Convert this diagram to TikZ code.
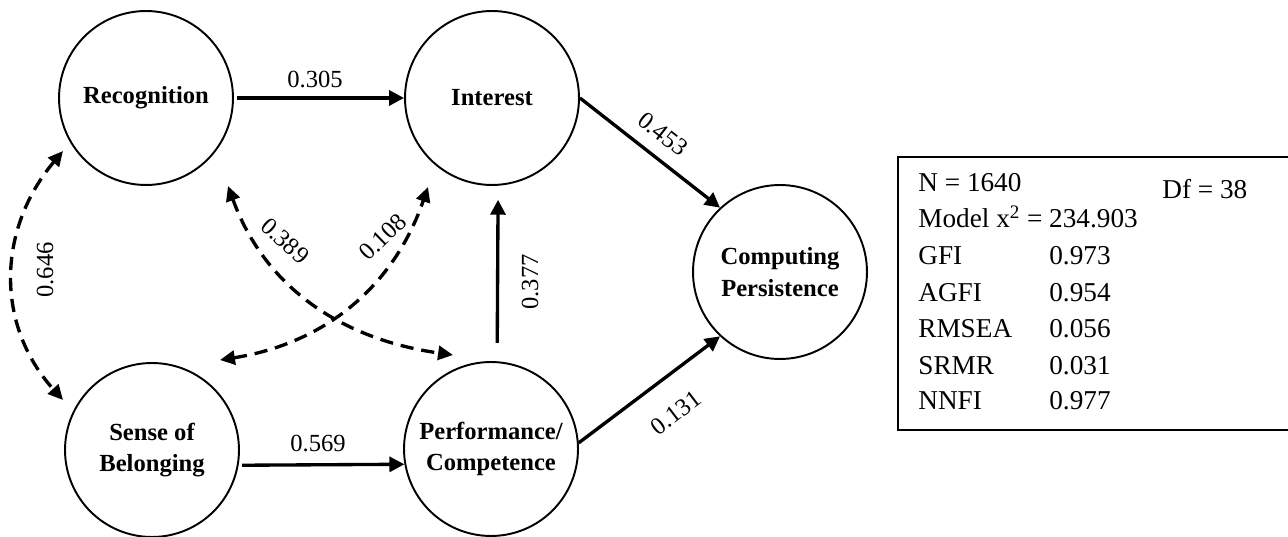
\documentclass[tikz,border=0pt]{standalone}
\usepackage{fontspec}
\setmainfont{Liberation Serif}
\usetikzlibrary{arrows.meta}

\begin{document}
\begin{tikzpicture}[
    x=0.02cm, y=0.02cm,
    latent/.style={circle, draw, line width=1.1pt, minimum size=3.48cm, inner sep=0pt,
        align=center, font=\fontsize{14}{18}\selectfont\bfseries},
    effect/.style={-{Triangle[length=8.5pt,width=8.5pt]}, line width=1.9pt},
    covar/.style={{Triangle[length=8.5pt,width=8pt]}-{Triangle[length=8.5pt,width=8pt]},
        line width=1.9pt, dash pattern=on 7.5pt off 4.5pt},
    coef/.style={font=\fontsize{14}{16}\selectfont, inner sep=0pt},
    stat/.style={anchor=base west, inner sep=0pt, font=\fontsize{15.5}{18}\selectfont}
  ]
      % 画布大小(与原图比例一致)
      \useasboundingbox (0,0) rectangle (1288,537);

      % 潜变量
      \node[latent] (rec) at (146,439) {Recognition};
      \node[latent] (int) at (492,439) {Interest};
      \node[latent] (cp)  at (780,265) {Computing\\Persistence};
      \node[latent] (sob) at (152,87)  {Sense of\\Belonging};
      \node[latent] (pc)  at (491,88)  {Performance/\\Competence};

      % 路径(实线箭头)
      \draw[effect, shorten <=2pt] (rec) -- (int);
      \draw[effect] (int.east) -- (cp.133);
      \draw[effect, shorten <=10.5pt, shorten >=8pt] (pc.86) -- (int.274);
      \draw[effect, shorten <=2pt] (sob.-10) -- (pc.190);
      \draw[effect] (pc.4) -- (cp.-133);

      % 相关(虚线双向箭头)的端点
      \coordinate (rec-a) at ([shift={(-83,-53)}]rec.center);
      \coordinate (rec-b) at ([shift={(82,-88)}]rec.center);
      \coordinate (sob-a) at ([shift={(-89,50)}]sob.center);
      \coordinate (sob-b) at ([shift={(68,90)}]sob.center);
      \coordinate (int-a) at ([shift={(-64,-89)}]int.center);
      \coordinate (pc-a)  at ([shift={(-38,94)}]pc.center);

      \draw[covar] (rec-a) to[out=230, in=132, looseness=1.05] (sob-a);
      \draw[covar] (rec-b) to[out=-70, in=172] (pc-a);
      \draw[covar] (sob-b) to[out=9, in=251] (int-a);

      % 系数
      \node[coef] (c305) at (315,457) {0.305};
      \node[coef, rotate=-38] (c453) at (663,403) {0.453};
      \node[coef, rotate=90] (c377) at (530,255) {0.377};
      \node[coef] (c569) at (318,94) {0.569};
      \node[coef, rotate=37.5] (c131) at (676,124) {0.131};
      \node[coef, rotate=90] (c646) at (45,267) {0.646};
      \node[coef, rotate=-42] (c389) at (285,296) {0.389};
      \node[coef, rotate=44] (c108) at (383,300) {0.108};

      % 拟合指标
      \draw[line width=1.2pt] (898,107) rectangle (1300,380);
      \node[stat] (n)   at (918,345)  {N = 1640};
      \node[stat] (df)  at (1162,338) {Df = 38};
      \node[stat] (chi) at (918,309)  {Model x\textsuperscript{2} = 234.903};
      \foreach \k/\v/\y in {GFI/0.973/272, AGFI/0.954/235, RMSEA/0.056/199,
                            SRMR/0.031/162, NNFI/0.977/127}{
          \node[stat] (k-\k) at (918,\y)  {\k};
          \node[stat] (v-\k) at (1049,\y) {\v};
      }
  \end{tikzpicture}
\end{document}
